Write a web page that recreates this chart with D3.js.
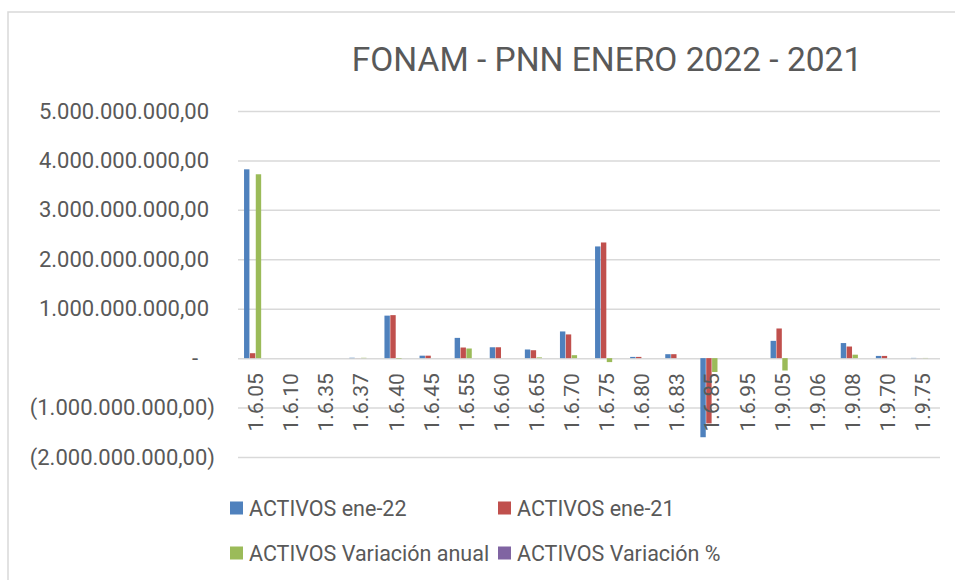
<!DOCTYPE html>
<html>
<head>
<meta charset="utf-8">
<script src="https://cdn.jsdelivr.net/npm/d3@7"></script>
<style>
  body { margin: 0; background: #fff; }
  svg text { font-family: Roboto, "Open Sans", sans-serif; fill: #595959; }
</style>
</head>
<body>
<div id="chart"></div>
<script>
// cuentas
const categories = ['1.6.05', '1.6.10', '1.6.35', '1.6.37', '1.6.40', '1.6.45', '1.6.55', '1.6.60', '1.6.65', '1.6.70',
  '1.6.75', '1.6.80', '1.6.83', '1.6.85', '1.6.95', '1.9.05', '1.9.06', '1.9.08', '1.9.70', '1.9.75'];

const activosEne22 = [3.82e9, 0, 0, 0.008e9, 0.86e9, 0.05e9, 0.41e9, 0.22e9, 0.175e9, 0.54e9,
  2.26e9, 0.025e9, 0.08e9, -1.6e9, 0, 0.35e9, 0, 0.305e9, 0.045e9, 0.005e9];
const activosEne21 = [0.10e9, 0, 0, 0.001e9, 0.87e9, 0.05e9, 0.215e9, 0.22e9, 0.16e9, 0.48e9,
  2.34e9, 0.025e9, 0.08e9, -1.32e9, 0, 0.6e9, 0, 0.235e9, 0.045e9, 0.001e9];
const activosVarAnual = [3.72e9, 0, 0, 0.007e9, -0.01e9, 0, 0.195e9, 0, 0.015e9, 0.06e9,
  -0.08e9, 0, 0, -0.28e9, 0, -0.25e9, 0, 0.07e9, 0, 0.004e9];
const activosVarPct = [37.2, 0, 0, 7, -0.01, 0, 0.91, 0, 0.09, 0.13,
  -0.03, 0, 0, 0.21, 0, -0.42, 0, 0.3, 0, 4];

const seriesNames = ['ACTIVOS ene-22', 'ACTIVOS ene-21', 'ACTIVOS Variación anual', 'ACTIVOS Variación %'];
const seriesColors = ['#4f81bd', '#c0504d', '#9bbb59', '#8064a2'];
const seriesValues = [activosEne22, activosEne21, activosVarAnual, activosVarPct];
const yTicks = [-2e9, -1e9, 0, 1e9, 2e9, 3e9, 4e9, 5e9];

const title = 'FONAM - PNN ENERO 2022 - 2021';

const width = 955;
const height = 580;
const margin = { top: 111, right: 15, bottom: 123, left: 238 };
const plotW = width - margin.left - margin.right;
const plotH = height - margin.top - margin.bottom;

const svg = d3.select('#chart').append('svg')
  .attr('width', width)
  .attr('height', height);

// marco del grafico
svg.append('path')
  .attr('d', `M8,${height} L8,12 L${width},12`)
  .attr('fill', 'none')
  .attr('stroke', '#d9d9d9')
  .attr('stroke-width', 1.5);

svg.append('text')
  .attr('x', 607)
  .attr('y', 71)
  .attr('text-anchor', 'middle')
  .style('font-size', '33.5px')
  .text(title);

const g = svg.append('g')
  .attr('transform', `translate(${margin.left},${margin.top})`);

const y = d3.scaleLinear()
  .domain([-2e9, 5e9])
  .range([plotH, 0]);

const x = d3.scaleBand()
  .domain(categories)
  .range([0, plotW])
  .paddingInner(0.345)
  .paddingOuter(0.172);

const xs = d3.scaleBand()
  .domain(d3.range(seriesNames.length))
  .range([0, x.bandwidth()])
  .paddingInner(0.08);

const locale = d3.formatLocale({ decimal: ',', thousands: '.', grouping: [3], currency: ['', ''] });
const num = locale.format(',.2f');
const fmt = (v) => {
  if (v === 0) return '-';
  if (v < 0) return `(${num(-v)})`;
  return num(v);
};

const yAxis = g.append('g')
  .call(d3.axisLeft(y)
    .tickValues(yTicks)
    .tickSize(-plotW)
    .tickPadding(23)
    .tickFormat(fmt));

yAxis.select('.domain').remove();
yAxis.selectAll('.tick line')
  .attr('stroke', '#d9d9d9')
  .attr('stroke-width', 1.5);
yAxis.selectAll('.tick text')
  .style('font-size', '22px')
  .style('font-family', 'Roboto, sans-serif')
  .attr('fill', '#595959')
  .attr('dx', d => (d > 0 ? -6 : d === 0 ? -17 : 0));

const groups = g.selectAll('.cat')
  .data(categories)
  .enter().append('g')
  .attr('class', 'cat')
  .attr('transform', d => `translate(${x(d)},0)`);

groups.selectAll('rect')
  .data((d, i) => seriesValues.map((vals, s) => ({ s, v: vals[i] })))
  .enter().append('rect')
  .attr('x', d => xs(d.s))
  .attr('width', xs.bandwidth())
  .attr('y', d => y(Math.max(0, d.v)))
  .attr('height', d => Math.abs(y(d.v) - y(0)))
  .attr('fill', d => seriesColors[d.s]);

// etiquetas de categoria junto al eje
g.selectAll('.catlabel')
  .data(categories)
  .enter().append('text')
  .attr('class', 'catlabel')
  .attr('transform', d => `translate(${x(d) + x.bandwidth() / 2},${y(0) + 15}) rotate(-90)`)
  .attr('text-anchor', 'end')
  .attr('dy', '0.36em')
  .style('font-size', '21px')
  .text(d => d);

// leyenda
const legendPos = [[230, 508], [498, 508], [230, 553], [498, 553]];
const legend = svg.selectAll('.legend')
  .data(seriesNames)
  .enter().append('g')
  .attr('class', 'legend')
  .attr('transform', (d, i) => `translate(${legendPos[i][0]},${legendPos[i][1]})`);

legend.append('rect')
  .attr('x', 0)
  .attr('y', -6.5)
  .attr('width', 13)
  .attr('height', 13)
  .attr('fill', (d, i) => seriesColors[i]);

legend.append('text')
  .attr('x', 19)
  .attr('dy', '0.35em')
  .style('font-size', '21.5px')
  .text(d => d);
</script>
</body>
</html>
